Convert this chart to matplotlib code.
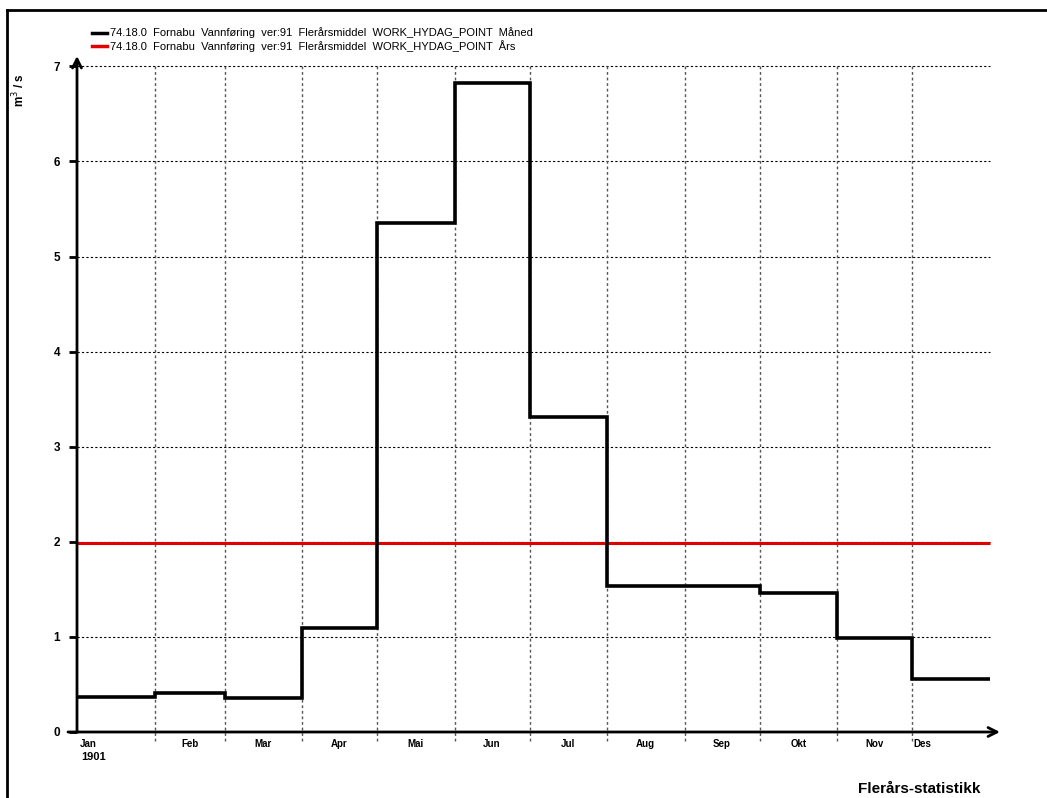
import matplotlib
matplotlib.use('Agg')
import matplotlib.pyplot as plt
from matplotlib.lines import Line2D
import numpy as np

# data
months = ['Jan', 'Feb', 'Mar', 'Apr', 'Mai', 'Jun', 'Jul', 'Aug', 'Sep', 'Okt', 'Nov', 'Des']
month_days = [31, 28, 31, 30, 31, 30, 31, 31, 30, 31, 30, 31]
monthly_flow = [0.37, 0.41, 0.36, 1.09, 5.35, 6.82, 3.31, 1.53, 1.53, 1.46, 0.99, 0.56]
annual_flow = 1.99
y_ticks = [0, 1, 2, 3, 4, 5, 6, 7]
legend_labels = ['74.18.0  Fornabu  Vannføring  ver:91  Flerårsmiddel  WORK_HYDAG_POINT  Måned',
                 '74.18.0  Fornabu  Vannføring  ver:91  Flerårsmiddel  WORK_HYDAG_POINT  Års']

plt.rcParams['font.family'] = ['Liberation Sans', 'DejaVu Sans']

W, H = 1047, 798
fig = plt.figure(figsize=(W / 100, H / 100), dpi=100)

# axes placed in pixel terms: x 77..1000, y 732..56 (from top)
x0, x1 = 77, 1000
ybot, ytop = 732, 56
ax = fig.add_axes([x0 / W, (H - ybot) / H, (x1 - x0) / W, (ybot - ytop) / H])
px_per_day = 2.5
px_per_unit = 95.1
ax.set_xlim(0, (x1 - x0) / px_per_day)
ax.set_ylim(0, (ybot - ytop) / px_per_unit)
for s in ax.spines.values():
    s.set_visible(False)

edges = np.concatenate([[0], np.cumsum(month_days)])
year_end = edges[-1]

# grid
ax.hlines(y_ticks[1:], 0, year_end, colors='black', linestyles=(0, (2, 2)), linewidth=0.8)
ax.vlines(edges[1:-1], -0.09, y_ticks[-1], colors='#555555', linestyles=(0, (2, 2)),
          linewidth=1.0, clip_on=False)

# series
ax.hlines(annual_flow, 0, year_end, colors='#e00000', linewidth=2.2, zorder=3)
ax.stairs(monthly_flow, edges, color='black', linewidth=2.6, baseline=None, zorder=4)

# axis arrows
ax.annotate('', xy=(1.0, 0), xytext=(-9 / (x1 - x0), 0), xycoords='axes fraction',
            arrowprops=dict(arrowstyle='->', lw=2, color='black', mutation_scale=16,
                            shrinkA=0, shrinkB=0))
ax.annotate('', xy=(0, 1.0), xytext=(0, 0), xycoords='axes fraction',
            arrowprops=dict(arrowstyle='->', lw=2, color='black', mutation_scale=16,
                            shrinkA=0, shrinkB=0))

# ticks
ax.set_yticks(y_ticks)
ax.set_yticklabels([str(t) for t in y_ticks], fontsize=8.5, fontweight='bold')
ax.tick_params(axis='y', length=6, width=2, pad=6, color='black')
ax.set_xticks([])

# month labels
mids = (edges[:-1] + edges[1:]) / 2
for i, m in enumerate(months):
    if i == 0:
        ax.text(edges[0] + 1, -0.07, m, ha='left', va='top', fontsize=7, fontweight='bold')
    elif i == len(months) - 1:
        ax.text(edges[i] + 0.5, -0.07, m, ha='left', va='top', fontsize=7, fontweight='bold')
    else:
        ax.text(mids[i], -0.07, m, ha='center', va='top', fontsize=7, fontweight='bold')
ax.text(edges[0] + 1.5, -0.21, '1901', ha='left', va='top', fontsize=8, fontweight='bold')

# y label
fig.text(19 / W, 1 - 90 / H, 'm$^3$ / s', rotation=90, ha='center', va='center',
         fontsize=8.5, fontweight='bold')

# legend
for i, (lab, col) in enumerate(zip(legend_labels, ['black', '#e00000'])):
    yy = 1 - (33 + 13 * i) / H
    fig.add_artist(Line2D([92 / W, 107 / W], [yy, yy], color=col, linewidth=2.5))
    fig.text(110 / W, yy, lab, ha='left', va='center', fontsize=8)

# outer frame (cut off at the right and bottom)
fig.add_artist(Line2D([7 / W, 1], [1 - 10 / H, 1 - 10 / H], color='black', linewidth=2))
fig.add_artist(Line2D([7 / W, 7 / W], [0, 1 - 10 / H], color='black', linewidth=2))

fig.text(858 / W, 2 / H, 'Flerårs-statistikk', ha='left', va='bottom',
         fontsize=11, fontweight='bold')

fig.savefig('out.png', dpi=100)
